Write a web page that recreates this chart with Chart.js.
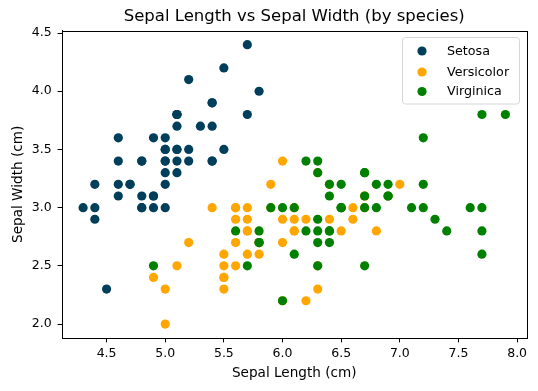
<!DOCTYPE html>
<html>
<head>
<meta charset="utf-8">
<script src="https://cdn.jsdelivr.net/npm/chart.js@4/dist/chart.umd.min.js"></script>
<style>
  html, body { margin: 0; padding: 0; background: #fff; }
  #wrap { width: 538px; height: 391px; }
</style>
</head>
<body>
<div id="wrap"><canvas id="irisChart"></canvas></div>
<script>
// Données iris : longueur / largeur des sépales par espèce
const setosaX = [5.1,4.9,4.7,4.6,5.0,5.4,4.6,5.0,4.4,4.9,5.4,4.8,4.8,4.3,5.8,5.7,5.4,5.1,5.7,5.1,
                 5.4,5.1,4.6,5.1,4.8,5.0,5.0,5.2,5.2,4.7,4.8,5.4,5.2,5.5,4.9,5.0,5.5,4.9,4.4,5.1,
                 5.0,4.5,4.4,5.0,5.1,4.8,5.1,4.6,5.3,5.0];
const setosaY = [3.5,3.0,3.2,3.1,3.6,3.9,3.4,3.4,2.9,3.1,3.7,3.4,3.0,3.0,4.0,4.4,3.9,3.5,3.8,3.8,
                 3.4,3.7,3.6,3.3,3.4,3.0,3.4,3.5,3.4,3.2,3.1,3.4,4.1,4.2,3.1,3.2,3.5,3.6,3.0,3.4,
                 3.5,2.3,3.2,3.5,3.8,3.0,3.8,3.2,3.7,3.3];
const versicolorX = [7.0,6.4,6.9,5.5,6.5,5.7,6.3,4.9,6.6,5.2,5.0,5.9,6.0,6.1,5.6,6.7,5.6,5.8,6.2,5.6,
                     5.9,6.1,6.3,6.1,6.4,6.6,6.8,6.7,6.0,5.7,5.5,5.5,5.8,6.0,5.4,6.0,6.7,6.3,5.6,5.5,
                     5.5,6.1,5.8,5.0,5.6,5.7,5.7,6.2,5.1,5.7];
const versicolorY = [3.2,3.2,3.1,2.3,2.8,2.8,3.3,2.4,2.9,2.7,2.0,3.0,2.2,2.9,2.9,3.1,3.0,2.7,2.2,2.5,
                     3.2,2.8,2.5,2.8,2.9,3.0,2.8,3.0,2.9,2.6,2.4,2.4,2.7,2.7,3.0,3.4,3.1,2.3,3.0,2.5,
                     2.6,3.0,2.6,2.3,2.7,3.0,2.9,2.9,2.5,2.8];
const virginicaX = [6.3,5.8,7.1,6.3,6.5,7.6,4.9,7.3,6.7,7.2,6.5,6.4,6.8,5.7,5.8,6.4,6.5,7.7,7.7,6.0,
                    6.9,5.6,7.7,6.3,6.7,7.2,6.2,6.1,6.4,7.2,7.4,7.9,6.4,6.3,6.1,7.7,6.3,6.4,6.0,6.9,
                    6.7,6.9,5.8,6.8,6.7,6.7,6.3,6.5,6.2,5.9];
const virginicaY = [3.3,2.7,3.0,2.9,3.0,3.0,2.5,2.9,2.5,3.6,3.2,2.7,3.0,2.5,2.8,3.2,3.0,3.8,2.6,2.2,
                    3.2,2.8,2.8,2.7,3.3,3.2,2.8,3.0,2.8,3.0,2.8,3.8,2.8,2.8,2.6,3.0,3.4,3.1,3.0,3.1,
                    3.1,3.1,2.7,3.2,3.3,3.0,2.5,3.0,3.4,3.0];

const speciesNames = ['Setosa', 'Versicolor', 'Virginica'];
const speciesColors = ['#003f5c', '#ffa600', '#008000'];

const xTicks = [4.5, 5.0, 5.5, 6.0, 6.5, 7.0, 7.5, 8.0];
const yTicks = [2.0, 2.5, 3.0, 3.5, 4.0, 4.5];
const xMin = 4.12, xMax = 8.08;
const yMin = 1.88, yMax = 4.52;

const chartTitle = 'Sepal Length vs Sepal Width (by species)';
const xLabel = 'Sepal Length (cm)';
const yLabel = 'Sepal Width (cm)';

const FONT = "'DejaVu Sans', sans-serif";

function toPoints(xs, ys) {
    return xs.map((x, i) => ({ x: x, y: ys[i] }));
}

const seriesX = [setosaX, versicolorX, virginicaX];
const seriesY = [setosaY, versicolorY, virginicaY];

// order décroissant : la dernière espèce est dessinée par-dessus (comme matplotlib)
const datasets = speciesNames.map((name, i) => ({
    label: name,
    data: toPoints(seriesX[i], seriesY[i]),
    backgroundColor: speciesColors[i],
    borderColor: speciesColors[i],
    borderWidth: 0,
    pointRadius: 4.6,
    pointHoverRadius: 4.6,
    order: speciesNames.length - i
}));

// Cadre complet, titre et légende dessinés à la main (façon matplotlib)
const decorPlugin = {
    id: 'decor',
    afterDraw(chart) {
        const ctx = chart.ctx;
        const a = chart.chartArea;
        ctx.save();
        ctx.strokeStyle = '#000';
        ctx.lineWidth = 1;
        ctx.strokeRect(Math.round(a.left) + 0.5, Math.round(a.top) + 0.5,
                       Math.round(a.right - a.left), Math.round(a.bottom - a.top));

        // titre
        ctx.fillStyle = '#000';
        ctx.font = '16.5px ' + FONT;
        ctx.textAlign = 'center';
        ctx.textBaseline = 'alphabetic';
        ctx.fillText(chartTitle, (a.left + a.right) / 2, 21);

        // légende
        const bx = 402.5, by = 37.5, bw = 117, bh = 66.5;
        ctx.beginPath();
        ctx.roundRect(bx, by, bw, bh, 3);
        ctx.fillStyle = 'rgba(255,255,255,0.8)';
        ctx.fill();
        ctx.strokeStyle = '#d6d6d6';
        ctx.stroke();
        ctx.font = '12.7px ' + FONT;
        ctx.textAlign = 'left';
        ctx.textBaseline = 'middle';
        const rows = [51, 72, 91.5];
        speciesNames.forEach((name, i) => {
            ctx.beginPath();
            ctx.arc(422, rows[i], 4.6, 0, Math.PI * 2);
            ctx.fillStyle = speciesColors[i];
            ctx.fill();
            ctx.fillStyle = '#000';
            ctx.fillText(name, 447, rows[i] + 0.5);
        });
        ctx.restore();
    }
};

const ctx = document.getElementById('irisChart').getContext('2d');
new Chart(ctx, {
    type: 'scatter',
    data: { datasets: datasets },
    options: {
        responsive: true,
        maintainAspectRatio: false,
        animation: false,
        layout: { padding: { left: 0, right: 11.5, top: 30.7, bottom: 0 } },
        plugins: {
            legend: { display: false },
            title: { display: false },
            tooltip: { enabled: false }
        },
        scales: {
            x: {
                type: 'linear',
                min: xMin,
                max: xMax,
                afterBuildTicks: (scale) => { scale.ticks = xTicks.map(v => ({ value: v })); },
                afterFit: (scale) => { scale.height = 53; },
                ticks: {
                    color: '#000',
                    font: { family: FONT, size: 12.5 },
                    padding: 4,
                    maxRotation: 0,
                    callback: (v) => Number(v).toFixed(1)
                },
                grid: { drawOnChartArea: false, drawTicks: true, tickLength: 4.4, tickColor: '#000' },
                border: { display: true, color: '#000', width: 1 },
                title: {
                    display: true,
                    text: xLabel,
                    color: '#000',
                    font: { family: FONT, size: 13.6 },
                    padding: { top: 0, bottom: 9.5 }
                }
            },
            y: {
                type: 'linear',
                min: yMin,
                max: yMax,
                afterBuildTicks: (scale) => { scale.ticks = yTicks.map(v => ({ value: v })); },
                afterFit: (scale) => { scale.width = 62; },
                ticks: {
                    color: '#000',
                    font: { family: FONT, size: 12.5 },
                    padding: 6,
                    callback: (v) => Number(v).toFixed(1)
                },
                grid: { drawOnChartArea: false, drawTicks: true, tickLength: 4.4, tickColor: '#000' },
                border: { display: true, color: '#000', width: 1 },
                title: {
                    display: true,
                    text: yLabel,
                    color: '#000',
                    font: { family: FONT, size: 13.6 },
                    padding: { top: 10.5, bottom: 0 }
                }
            }
        }
    },
    plugins: [decorPlugin]
});
</script>
</body>
</html>
